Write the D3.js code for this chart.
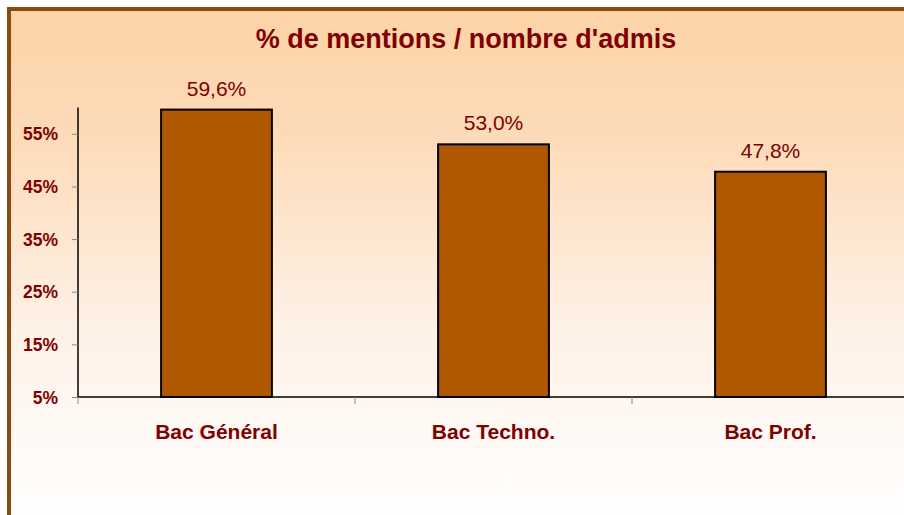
<!DOCTYPE html>
<html>
<head>
<meta charset="utf-8">
<script src="https://cdn.jsdelivr.net/npm/d3@7"></script>
<style>
  body { margin: 0; background: #fff; }
  svg { display: block; font-family: "Liberation Sans", Arial, sans-serif; }
</style>
</head>
<body>
<svg width="904" height="515"></svg>
<script>
/* ---------------- data ---------------- */
var categories = ['Bac Général', 'Bac Techno.', 'Bac Prof.'];
var values = [59.6, 53.0, 47.8];
var yTicks = [5, 15, 25, 35, 45, 55];
var title = "% de mentions / nombre d'admis";

/* ---------------- setup ---------------- */
var svg = d3.select('svg');
var textColor = '#800000';

var defs = svg.append('defs');
var grad = defs.append('linearGradient')
  .attr('id', 'bg')
  .attr('x1', 0).attr('y1', 0).attr('x2', 0).attr('y2', 1);
grad.append('stop').attr('offset', '0%').attr('stop-color', '#fdd3a7');
grad.append('stop').attr('offset', '25%').attr('stop-color', '#fddbb9');
grad.append('stop').attr('offset', '60%').attr('stop-color', '#fef0e4');
grad.append('stop').attr('offset', '85%').attr('stop-color', '#fffaf7');
grad.append('stop').attr('offset', '100%').attr('stop-color', '#ffffff');

// panel background + border (top and left visible only)
svg.append('rect')
  .attr('x', 9).attr('y', 9)
  .attr('width', 904).attr('height', 515)
  .attr('fill', 'url(#bg)');
svg.append('path')
  .attr('d', 'M9,515 V9 H904')
  .attr('fill', 'none')
  .attr('stroke', '#8b4a12')
  .attr('stroke-width', 4);

// scales
var x = d3.scaleBand()
  .domain(categories)
  .range([78, 909])
  .paddingInner(0.6)
  .paddingOuter(0.3);

var y = d3.scaleLinear()
  .domain([5, 60])
  .range([397, 107.5]);

// title
svg.append('text')
  .attr('x', 466)
  .attr('y', 48)
  .attr('text-anchor', 'middle')
  .attr('font-size', 27)
  .attr('font-weight', 'bold')
  .attr('fill', textColor)
  .text(title);

// y axis
var yAxis = d3.axisLeft(y).tickValues(yTicks).tickSize(6).tickFormat(function (d) { return d + '%'; });
var gy = svg.append('g')
  .attr('transform', 'translate(78,0)')
  .call(yAxis);
gy.select('.domain').attr('stroke', '#000').attr('stroke-width', 1.5)
  .attr('d', 'M0,' + y(60) + 'V' + y(5));
gy.selectAll('.tick line').attr('stroke', '#888');
gy.selectAll('.tick text')
  .attr('x', -20)
  .attr('dy', '0.35em')
  .attr('font-size', 17.5)
  .attr('font-weight', 'bold')
  .attr('font-family', '"Liberation Sans", Arial, sans-serif')
  .attr('fill', textColor);

// x axis line + boundary ticks
var gx = svg.append('g');
gx.append('line')
  .attr('x1', 78).attr('x2', 904)
  .attr('y1', y(5)).attr('y2', y(5))
  .attr('stroke', '#000').attr('stroke-width', 1.5);
gx.selectAll('.bound')
  .data(categories)
  .enter().append('line')
  .attr('class', 'bound')
  .attr('x1', function (d) { return x(d) - x.step() * x.paddingInner() / 2; })
  .attr('x2', function (d) { return x(d) - x.step() * x.paddingInner() / 2; })
  .attr('y1', y(5)).attr('y2', y(5) + 7)
  .attr('stroke', '#888');

// bars
svg.selectAll('.bar')
  .data(values)
  .enter().append('rect')
  .attr('class', 'bar')
  .attr('x', function (d, i) { return x(categories[i]); })
  .attr('width', x.bandwidth())
  .attr('y', function (d) { return y(d); })
  .attr('height', function (d) { return y(5) - y(d); })
  .attr('fill', '#b05800')
  .attr('stroke', '#000')
  .attr('stroke-width', 2);

// value labels
svg.selectAll('.val')
  .data(values)
  .enter().append('text')
  .attr('class', 'val')
  .attr('x', function (d, i) { return x(categories[i]) + x.bandwidth() / 2; })
  .attr('y', function (d) { return y(d) - 14; })
  .attr('text-anchor', 'middle')
  .attr('font-size', 21)
  .attr('fill', textColor)
  .text(function (d) { return d.toFixed(1).replace('.', ',') + '%'; });

// category labels
svg.selectAll('.cat')
  .data(categories)
  .enter().append('text')
  .attr('class', 'cat')
  .attr('x', function (d) { return x(d) + x.bandwidth() / 2; })
  .attr('y', 439)
  .attr('text-anchor', 'middle')
  .attr('font-size', 21)
  .attr('font-weight', 'bold')
  .attr('fill', textColor)
  .text(function (d) { return d; });
</script>
</body>
</html>
